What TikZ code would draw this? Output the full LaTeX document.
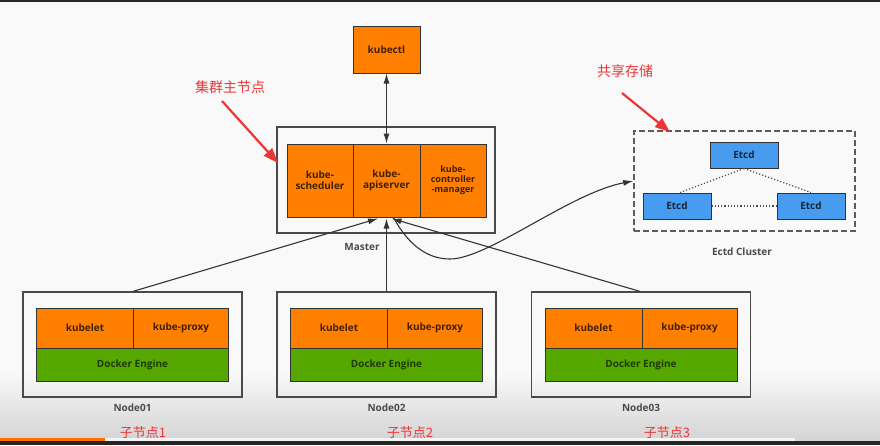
\documentclass[tikz,border=0pt]{standalone}
\usepackage{fontspec}
\setmainfont{Open Sans}
\newfontfamily\cjk{Noto Sans CJK SC}
\usetikzlibrary{positioning,arrows.meta,calc}
\definecolor{cOrange}{HTML}{FF8000}
\definecolor{cGreen} {HTML}{56A800}
\definecolor{cBlue}  {HTML}{479CF0}
\definecolor{cEdge}  {HTML}{333333}
\definecolor{cNote}  {HTML}{EE3535}
\definecolor{cLabel} {HTML}{4A4A4A}
\definecolor{cBack}  {HTML}{F8F9F8}

\begin{document}
\begin{tikzpicture}[x=1pt,y=-1pt,
    part/.style={draw=cEdge,line width=1pt,fill=cOrange,inner sep=0pt,align=center,
      font=\bfseries\fontsize{10}{11}\selectfont,text=cOrange!25!black},
    engine/.style={part,fill=cGreen,text=cGreen!35!black},
    etcdbox/.style={part,fill=cBlue,text=cBlue!25!black,minimum width=68,minimum height=26},
    frame/.style={draw=cLabel,line width=1.2pt,fill=none,inner sep=0pt},
    caption/.style={font=\bfseries\fontsize{10}{11}\selectfont,text=cLabel},
    note/.style={font=\cjk\fontsize{14}{16}\selectfont,text=cNote},
    link/.style={draw=cEdge,line width=1.1pt,-{Latex[length=10pt,width=6pt]}},
    pointer/.style={cNote,line width=2.2pt,-{Triangle[length=15pt,width=11pt]}}]
  \useasboundingbox (0,0) rectangle (880,445);
  % screen backdrop
  \fill[cBack] (0,0) rectangle (880,445);
  \shade[top color=cBack,bottom color=black!17] (0,372) rectangle (880,441);
  \fill[white!92!gray] (0,438) rectangle (795,441);
  \fill[cOrange!85!red] (0,438) rectangle (105,441);
  \fill[black!85] (0,441) rectangle (880,445);
  \fill[black!85] (0,0) rectangle (880,1.5);

  % master
  \node[part,minimum width=67,minimum height=47] (ctl) at (386.5,49.5) {kubectl};
  \node[frame,minimum width=218,minimum height=106] (master) at (386,180) {};
  \node[part,minimum width=66,minimum height=73] (sched) at (320,180.5) {kube-\\scheduler};
  \node[part,minimum width=67,minimum height=73] (api) at (386.5,180.5) {kube-\\apiserver};
  \node[part,minimum width=66,minimum height=73,font=\bfseries\fontsize{9}{10}\selectfont]
    (cm) at (453,180.5) {kube-\\controller\\-manager};
  \node[caption] (mlabel) at (362,247) {Master};
  \draw[link,{Latex[length=10pt,width=6pt]}-{Latex[length=10pt,width=6pt]}] (ctl.south) -- (api.north);

  % etcd cluster
  \node[frame,draw=cLabel!90,dash pattern=on 6pt off 3pt,line width=1.6pt,
    minimum width=221,minimum height=100] (cl) at (744.5,181) {};
  \node[etcdbox] (e1) at (744,155) {Etcd};
  \node[etcdbox] (e2) at (677,206) {Etcd};
  \node[etcdbox] (e3) at (811,206) {Etcd};
  \draw[cLabel,line width=1.2pt,dotted] (e1.south) -- ($(e2.north)+(3,0)$);
  \draw[cLabel,line width=1.2pt,dotted] (e1.south) -- (e3.north);
  \draw[cLabel,line width=1.2pt,dotted] (e2.east) -- (e3.west);
  \node[caption] (clabel) at (742,252) {Ectd Cluster};
  \draw[link] ($(api.south)+(7,0)$) .. controls (410,248) and (430,259) .. (450,259)
    .. controls (488,259) and (570,193) .. (cl.west);

  % worker nodes
  \foreach \i/\cx/\nx in {1/132.5/143,2/386.5/410,3/641/667}{
    \node[frame,minimum width=219,minimum height=105] (n\i) at (\cx,344.5) {};
    \node[part,minimum width=97,minimum height=40] (kl\i) at (\cx-47.5,328) {kubelet};
    \node[part,minimum width=95,minimum height=40] (kp\i) at (\cx+48.5,328) {kube-proxy};
    \node[engine,minimum width=192,minimum height=33] (de\i) at (\cx,364.5) {Docker Engine};
    \node[caption] (nl\i) at (\cx,408) {Node0\i};
    \node[note,font=\cjk\fontsize{13}{15}\selectfont] (sub\i) at (\nx,433) {子节点\i};
  }
  \draw[link] ($(n1.north)+(0.5,0)$) -- ($(api.south)+(-8.5,1)$);
  \draw[link] (n2.north) -- ($(api.south)+(0,1)$);
  \draw[link] ($(n3.north)+(-1,0)$) -- ($(api.south)+(5,1)$);

  % red notes
  \node[note] (mnote) at (230,87) {集群主节点};
  \node[note] (snote) at (625,71) {共享存储};
  \coordinate (mtip) at (278,163);
  \coordinate (stip) at (670,132);
  \draw[pointer] ($(mnote.south)+(-8,4)$) -- (mtip);
  \draw[pointer] ($(snote.south)+(-3,12)$) -- (stip);
\end{tikzpicture}
\end{document}
